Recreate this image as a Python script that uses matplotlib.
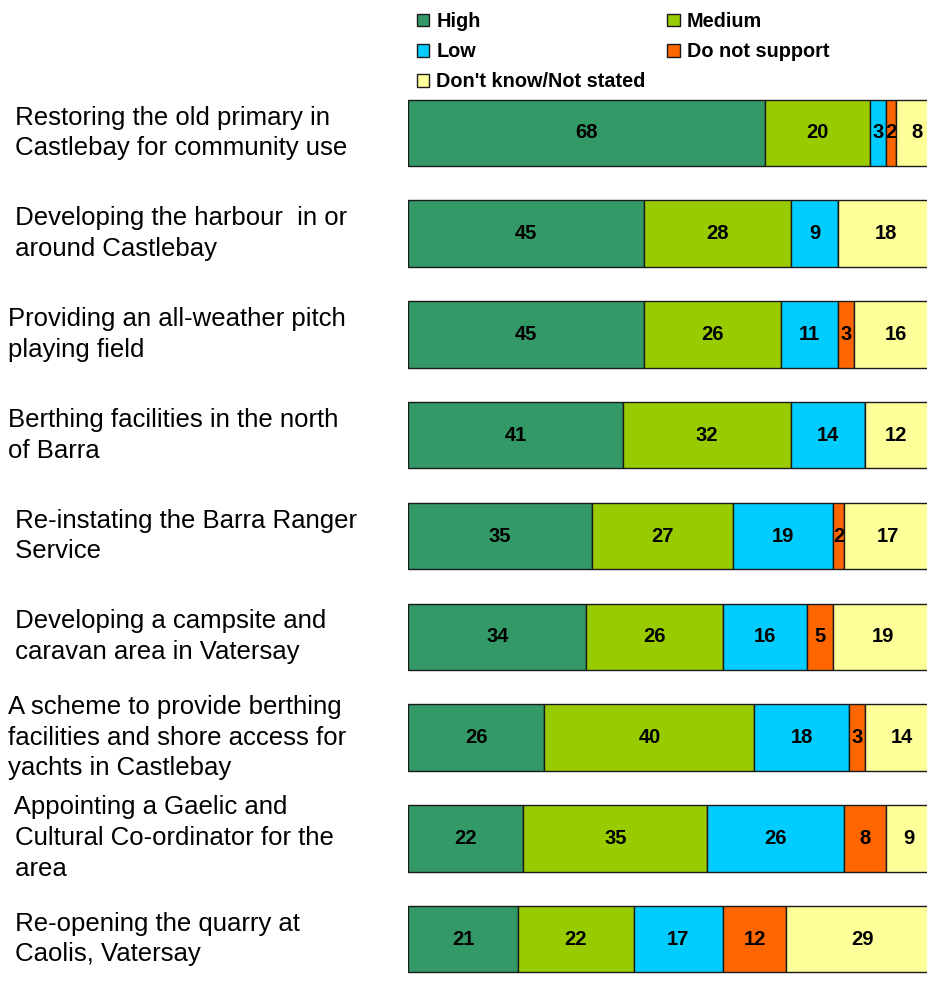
import matplotlib
matplotlib.use('Agg')
import matplotlib.pyplot as plt
import numpy as np

plt.rcParams['font.family'] = ['Liberation Sans', 'DejaVu Sans']

# survey data: percentage of respondents per support level
projects = [
    " Restoring the old primary in\n Castlebay for community use",
    " Developing the harbour  in or\n around Castlebay",
    "Providing an all-weather pitch\nplaying field",
    "Berthing facilities in the north\nof Barra",
    " Re-instating the Barra Ranger\n Service",
    " Developing a campsite and\n caravan area in Vatersay",
    "A scheme to provide berthing\nfacilities and shore access for\nyachts in Castlebay",
    " Appointing a Gaelic and\n Cultural Co-ordinator for the\n area",
    " Re-opening the quarry at\n Caolis, Vatersay",
]
levels = ["High", "Medium", "Low", "Do not support", "Don't know/Not stated"]
high = [68, 45, 45, 41, 35, 34, 26, 22, 21]
medium = [20, 28, 26, 32, 27, 26, 40, 35, 22]
low = [3, 9, 11, 14, 19, 16, 18, 26, 17]
no_support = [2, 0, 3, 0, 2, 5, 3, 8, 12]
dont_know = [8, 18, 16, 12, 17, 19, 14, 9, 29]
colors = ['#339966', '#99CC00', '#00CCFF', '#FF6600', '#FFFF99']

series = [high, medium, low, no_support, dont_know]

fig = plt.figure(figsize=(9.28, 9.88), dpi=100)
ax = fig.add_axes([408 / 928, 0.0, 1 - 408 / 928, 1 - 82.6 / 988])

y = np.arange(len(projects))
left = np.zeros(len(projects))
handles = []
for vals, name, col in zip(series, levels, colors):
    vals = np.array(vals, dtype=float)
    bars = ax.barh(y, vals, left=left, height=0.66, color=col,
                   edgecolor='#1a1a1a', linewidth=1.0, label=name)
    handles.append(bars)
    for yi, l, v in zip(y, left, vals):
        if v > 0:
            ax.text(l + v / 2, yi, f"{int(v)}", ha='center', va='center',
                    fontsize=14.5, fontweight='bold', color='black')
    left += vals

ax.set_xlim(0, 99.05)
ax.set_ylim(8.486, -0.5)
ax.axis('off')

# category labels on the left
trans = matplotlib.transforms.blended_transform_factory(fig.transFigure, ax.transData)
for yi, name in zip(y, projects):
    ax.text(8 / 928, yi, name, transform=trans, ha='left', va='center',
            fontsize=18.5, linespacing=1.36, color='black')

# legend, filled row-wise
order = [0, 2, 4, 1, 3]
leg = fig.legend([handles[i] for i in order], [levels[i] for i in order],
                 loc='upper left', bbox_to_anchor=(417 / 928, 1 - 12 / 988),
                 ncol=2, frameon=False, prop={'weight': 'bold', 'size': 14.3},
                 handlelength=0.62, handleheight=0.62, handletextpad=0.35,
                 columnspacing=1.1, labelspacing=0.56, borderpad=0,
                 borderaxespad=0)

fig.savefig('out.png', dpi=100)
